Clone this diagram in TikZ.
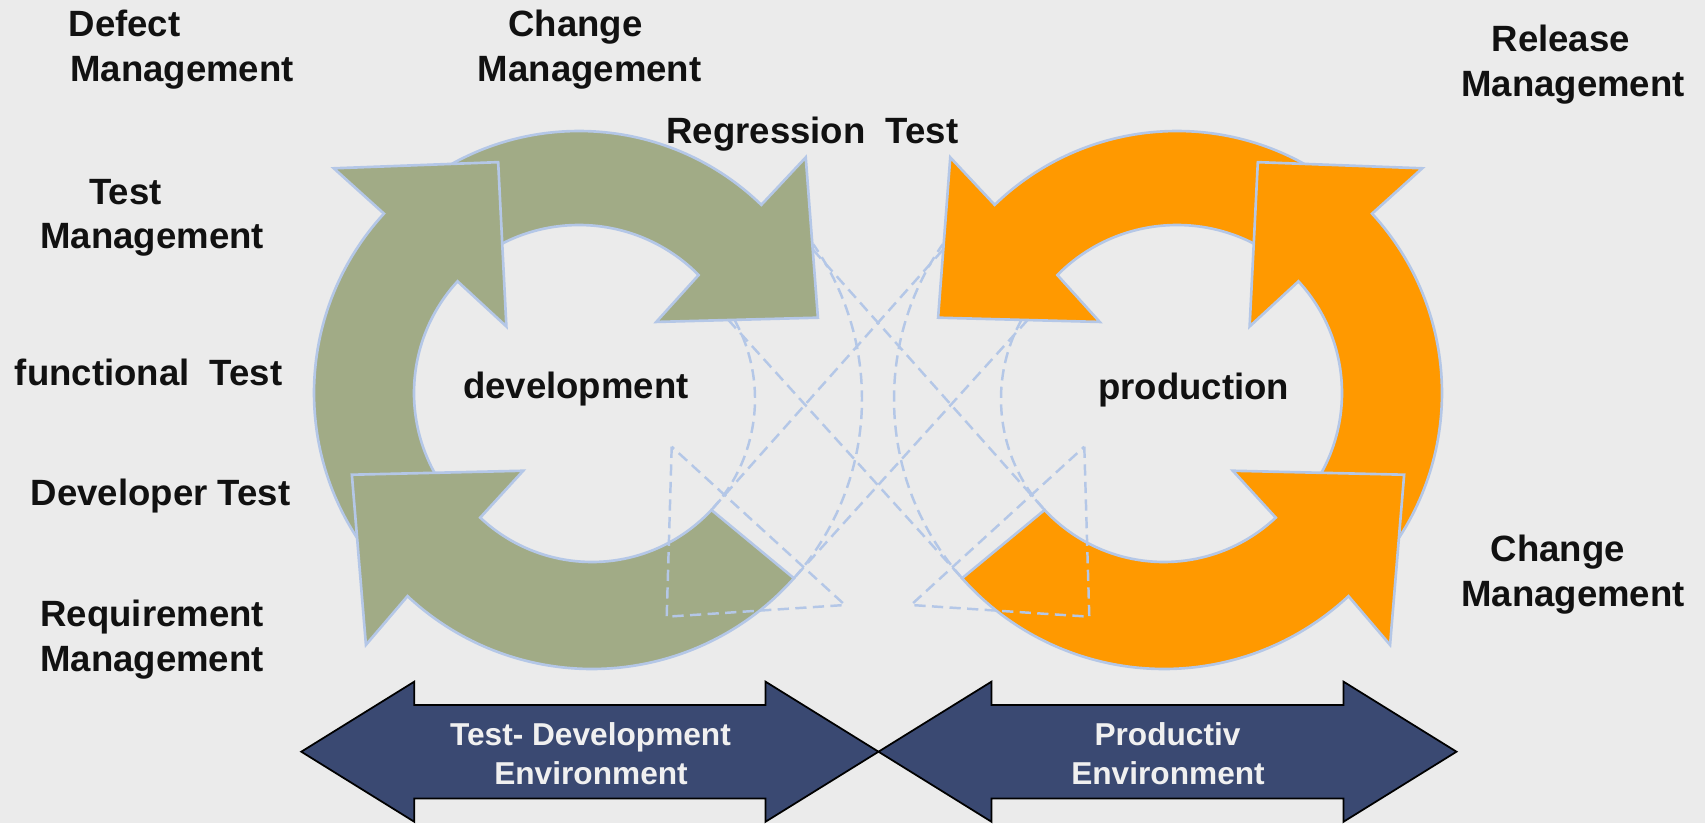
\documentclass[tikz,border=0pt]{standalone}
\usepackage{fontspec}
\setmainfont{Liberation Sans}

\definecolor{bggray}{RGB}{235,235,235}
\definecolor{devgreen}{RGB}{161,171,134}
\definecolor{prodorange}{RGB}{255,153,0}
\definecolor{ringline}{RGB}{180,199,231}
\definecolor{envnavy}{RGB}{58,73,114}
\definecolor{envtext}{RGB}{240,240,240}
\definecolor{labelblack}{RGB}{17,17,17}

\tikzset{
    ringpart/.style={draw=ringline, line width=0.75pt},
    ghost/.style={draw=ringline, line width=0.7pt, dash pattern=on 3.2pt off 1.8pt},
    envarrow/.style={draw=black, fill=envnavy, line width=0.5pt},
    lbl/.style={font=\bfseries\fontsize{10.4}{12.5}\selectfont, text=labelblack, inner sep=0pt, anchor=base},
    envlbl/.style={font=\bfseries\fontsize{9}{11}\selectfont, text=envtext, inner sep=0pt, anchor=base}
}

% one cycle of three arrows, running clockwise
\newcommand{\ringarrows}[1]{%
    % top arrow
    \filldraw [ringpart, fill=#1, shift={(579,430)}] (125:262) arc [start angle=125, end angle=45.9, radius=262]
        -- (46.1:327) -- (17.5:250.5) -- (42.6:105) -- (44.6:168)
        arc [start angle=44.6, end angle=125, radius=168] -- cycle;
    % left arrow
    \filldraw [ringpart, fill=#1, shift={(579,430)}] (218:265) arc [start angle=218, end angle=137.4, radius=265]
        -- (137.5:332.6) -- (109.3:244.6) -- (137.5:98.5) -- (137.4:165)
        arc [start angle=137.4, end angle=218, radius=165] -- cycle;
    % bottom arrow
    \filldraw [ringpart, fill=#1, shift={(592,424)}] (-41.6:270) arc [start angle=-41.6, end angle=-133.1, radius=270]
        -- (-132.6:334) -- (-162.5:251.8) -- (-133.8:99.4) -- (-133.3:163)
        arc [start angle=-133.3, end angle=-42.9, radius=163] -- cycle;
}

% dashed outline between the cycles
\newcommand{\ghostlines}{%
    \draw [ghost, shift={(592,424)}] (-42.9:163) arc [start angle=-42.9, end angle=29, radius=163];
    \draw [ghost, shift={(592,424)}] (-41.6:270) arc [start angle=-41.6, end angle=35, radius=270];
    \draw [ghost] (728.3,503.1) -- (962.1,244.8);
    \draw [ghost] (813.3,573) -- (1044.6,313.1);
    \draw [ghost] (671.7,376.3) -- (666.7,206.3) -- (845,218) -- cycle;
}

\begin{document}
\begin{tikzpicture}[x=0.01cm, y=0.01cm]
    \useasboundingbox (0,0) rectangle (1705,823);
    \fill [bggray] (0,0) rectangle (1705,823);

    % development and production cycles
    \ringarrows{devgreen}
    \begin{scope}[shift={(1756,0)}, xscale=-1]
        \ringarrows{prodorange}
    \end{scope}

    \ghostlines
    \begin{scope}[shift={(1756,0)}, xscale=-1]
        \ghostlines
    \end{scope}

    % environment arrows
    \draw [envarrow] (301.3,71.3) -- (414.2,141.3) -- (414.2,118) -- (765.6,118) -- (765.6,141.3) -- (878.5,71.3)
        -- (765.6,1.3) -- (765.6,24.6) -- (414.2,24.6) -- (414.2,1.3) -- cycle;
    \draw [envarrow] (878.5,71.3) -- (991.4,141.3) -- (991.4,118) -- (1343.6,118) -- (1343.6,141.3) -- (1456.5,71.3)
        -- (1343.6,1.3) -- (1343.6,24.6) -- (991.4,24.6) -- (991.4,1.3) -- cycle;
    \node [envlbl] (testenv) at (590.5,78) {Test- Development};
    \node [envlbl] (testenvb) at (591,39) {Environment};
    \node [envlbl] (prodenv) at (1167.5,78) {Productiv};
    \node [envlbl] (prodenvb) at (1168,39) {Environment};

    % cycle names
    \node [lbl] (development) at (575.9,424.4) {development};
    \node [lbl] (production) at (1193.7,423.7) {production};

    % left labels
    \node [lbl] (defect) at (124.5,786.3) {Defect};
    \node [lbl] (defectb) at (182,741.3) {Management};
    \node [lbl] (changedev) at (575.5,786.3) {Change};
    \node [lbl] (changedevb) at (589.7,741.3) {Management};
    \node [lbl] (regression) at (812.5,679.7) {Regression\ \ Test};
    \node [lbl] (testmgmt) at (125.5,619) {Test};
    \node [lbl] (testmgmtb) at (152.2,574.7) {Management};
    \node [lbl] (functional) at (148.7,438) {functional\ \ Test};
    \node [lbl] (developer) at (160.5,317.3) {Developer Test};
    \node [lbl] (requirement) at (152.2,196.3) {Requirement};
    \node [lbl] (requirementb) at (152,151.3) {Management};

    % right labels
    \node [lbl] (release) at (1560.8,771.3) {Release};
    \node [lbl] (releaseb) at (1573,726.3) {Management};
    \node [lbl] (changeprod) at (1557.8,261.3) {Change};
    \node [lbl] (changeprodb) at (1573,217) {Management};
\end{tikzpicture}
\end{document}
